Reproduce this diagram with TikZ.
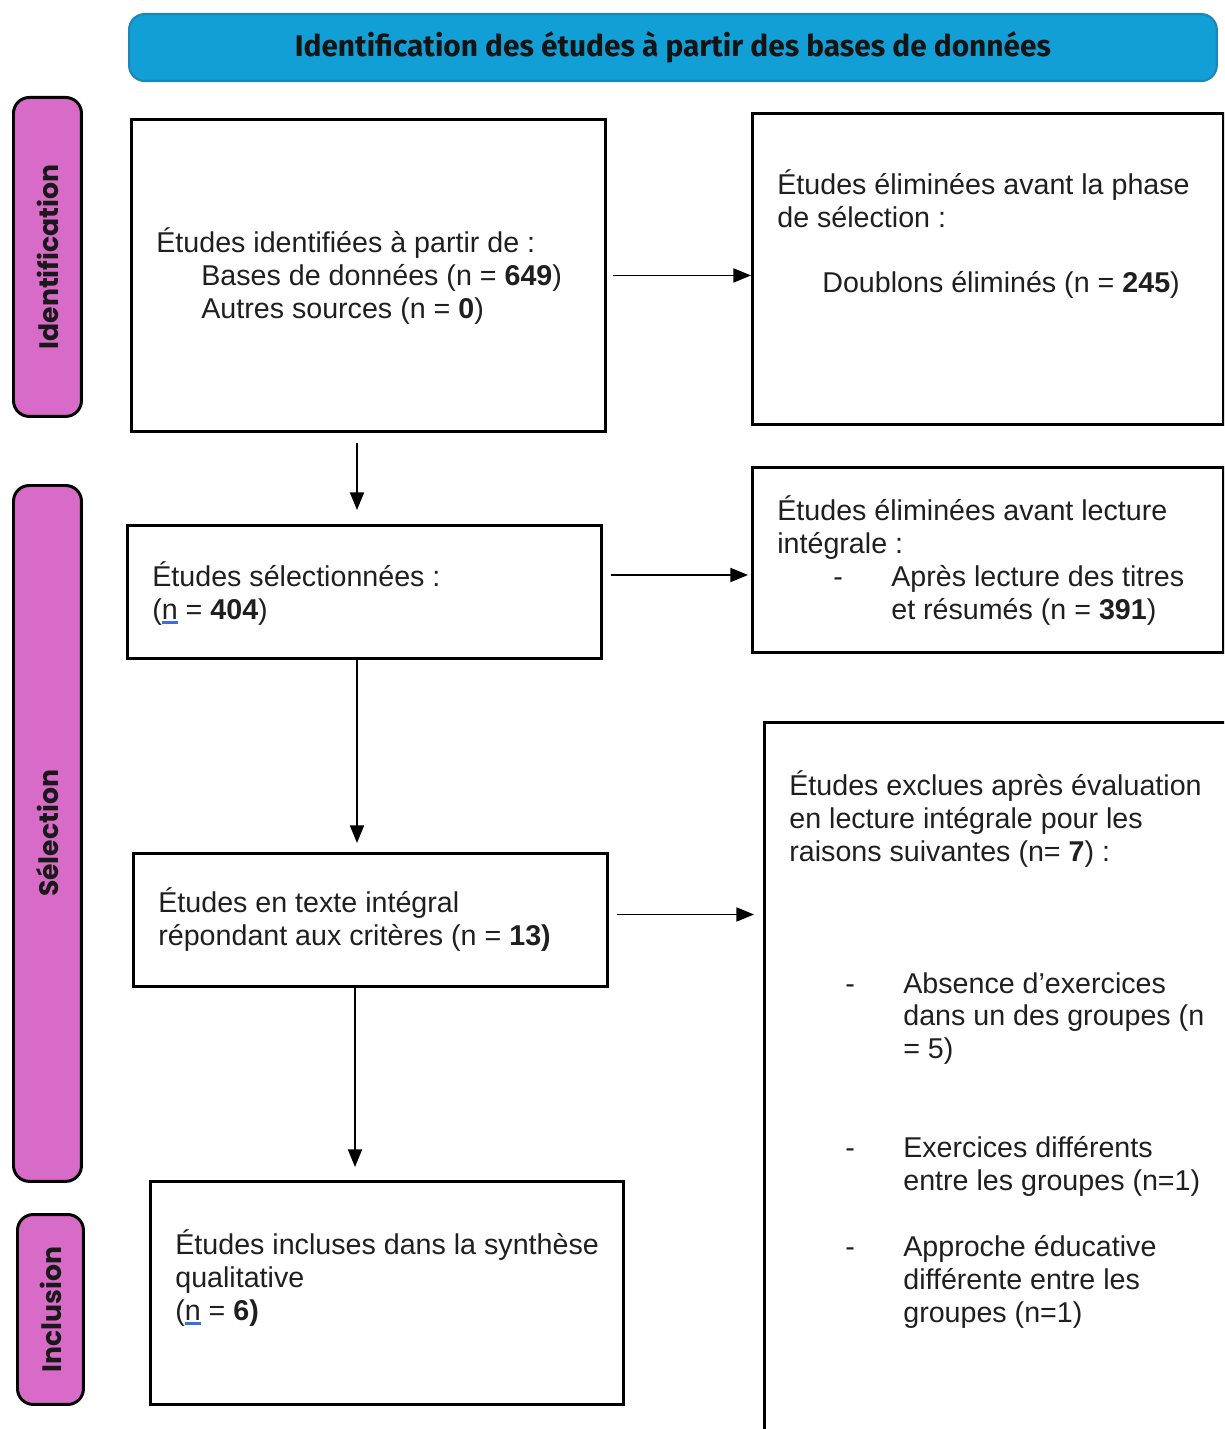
\documentclass[tikz,border=0pt]{standalone}
\usepackage{fontspec}
\setmainfont{Liberation Sans}
\newfontfamily\titlefont{Fira Sans}
\newfontfamily\phasefont{Poppins}
\usepackage{xcolor}
\usetikzlibrary{arrows.meta,positioning,calc}
\definecolor{titleblue}{HTML}{129FD6}
\definecolor{titleedge}{HTML}{1C86B5}
\definecolor{phasepink}{HTML}{D86BC8}
\definecolor{spellblue}{HTML}{3B6FE0}
\newcommand{\nspell}{\rlap{\color{spellblue}\rule[-0.16em]{0.56em}{0.09em}}n}
\newcommand{\dashitem}{\hspace*{1.12cm}\makebox[1.16cm][l]{-}}

\begin{document}
\begin{tikzpicture}[x=0.02cm, y=-0.02cm,
  font=\fontsize{16.3}{18.7}\selectfont,
  box/.style={rectangle, draw=black, line width=1.7pt, inner sep=0pt, anchor=north west},
  phase/.style={rectangle, rounded corners=9pt, draw=black, line width=1.7pt, fill=phasepink,
                inner sep=0pt, anchor=north west},
  txt/.style={align=left, inner sep=0pt, anchor=base west, text=black!88},
  phaselab/.style={rotate=90, text=black!90, font=\phasefont\bfseries\fontsize{15.2}{17}\selectfont},
  arr/.style={-{Triangle[length=10pt,width=8pt]}, line width=0.85pt},
]
\useasboundingbox (0,0) rectangle (1224,1429);
\clip (0,0) rectangle (1224,1429);

% header
\node[rectangle, rounded corners=9pt, draw=titleedge, line width=1.2pt, fill=titleblue,
      anchor=north west, minimum width=21.76cm, minimum height=1.34cm,
      font=\titlefont\bfseries\fontsize{17}{19}\selectfont, text=black!92] (title) at (128,13)
      {Identification des études à partir des bases de données};

% phases on the left
\node[phase, minimum width=1.36cm, minimum height=6.38cm] (idph) at (12,96) {};
\node[phase, minimum width=1.36cm, minimum height=13.92cm] (selph) at (12,484) {};
\node[phase, minimum width=1.32cm, minimum height=3.8cm] (incph) at (16,1213) {};
\node[phaselab] (idlab) at (idph.center) {Identification};
\node[phaselab] (sellab) at (selph.center) {Sélection};
\node[phaselab] (inclab) at (incph.center) {Inclusion};

% main column
\node[box, minimum width=9.48cm, minimum height=6.24cm] (ident) at (130,118) {};
\node[box, minimum width=9.48cm, minimum height=2.66cm] (screen) at (126,524) {};
\node[box, minimum width=9.48cm, minimum height=2.66cm] (fulltext) at (132,852) {};
\node[box, minimum width=9.46cm, minimum height=4.46cm] (incl) at (149,1180) {};

% right column
\node[box, minimum width=9.42cm, minimum height=6.22cm] (dupl) at (751,112) {};
\node[box, minimum width=9.42cm, minimum height=3.7cm] (scrout) at (751,466) {};
\node[box, minimum width=9.6cm, minimum height=14.4cm] (excl) at (763,721) {};

% texts (anchored at the baseline of their last line)
\node[txt] (identtxt) at ([shift={(26,200)}]ident.north west)
  {Études identifiées à partir de :\\
   \hspace*{0.9cm}Bases de données (n = \textbf{649})\\
   \hspace*{0.9cm}Autres sources (n = \textbf{0})};
\node[txt] (dupltxt) at ([shift={(26,181)}]dupl.north west)
  {Études éliminées avant la phase\\
   de sélection :\\[0.66cm]
   \hspace*{0.9cm}Doublons éliminés (n = \textbf{245})};
\node[txt] (screentxt) at ([shift={(26,95)}]screen.north west)
  {Études sélectionnées :\\
   (\nspell{} = \textbf{404})};
\node[txt] (scrouttxt) at ([shift={(26,153)}]scrout.north west)
  {Études éliminées avant lecture\\
   intégrale :\\
   \dashitem Après lecture des titres\\
   \hspace*{2.28cm}et résumés (n = \textbf{391})};
\node[txt] (fulltexttxt) at ([shift={(26,93)}]fulltext.north west)
  {Études en texte intégral\\
   répondant aux critères (n = \textbf{13)}};
\node[txt] (excltxt) at ([shift={(26,601)}]excl.north west)
  {Études exclues après évaluation\\
   en lecture intégrale pour les\\
   raisons suivantes (n= \textbf{7}) :\\[1.98cm]
   \dashitem Absence d’exercices\\
   \hspace*{2.28cm}dans un des groupes (n\\
   \hspace*{2.28cm}= 5)\\[1.32cm]
   \dashitem Exercices différents\\
   \hspace*{2.28cm}entre les groupes (n=1)\\[0.66cm]
   \dashitem Approche éducative\\
   \hspace*{2.28cm}différente entre les\\
   \hspace*{2.28cm}groupes (n=1)};
\node[txt] (incltxt) at ([shift={(26,140)}]incl.north west)
  {Études incluses dans la synthèse\\
   qualitative\\
   (\nspell{} = \textbf{6)}};

% connectors
\coordinate (spine) at (357,0);
\coordinate (spinelow) at (355,0);
\draw[arr, shorten <=0.12cm] (ident.east) -- (ident.east -| dupl.west);
\draw[arr, shorten <=0.2cm, shorten >=0.28cm] (ident.south -| spine) -- (screen.north -| spine);
\draw[arr, shorten <=0.16cm, shorten >=0.06cm] ([yshift=0.34cm]screen.east) -- ([yshift=0.34cm]screen.east -| scrout.west);
\draw[arr, shorten >=0.18cm] (screen.south -| spine) -- (fulltext.north -| spine);
\draw[arr, shorten <=0.16cm, shorten >=0.18cm] ([yshift=0.11cm]fulltext.east) -- ([yshift=0.11cm]fulltext.east -| excl.west);
\draw[arr, shorten >=0.26cm] (fulltext.south -| spinelow) -- (incl.north -| spinelow);
\end{tikzpicture}
\end{document}
